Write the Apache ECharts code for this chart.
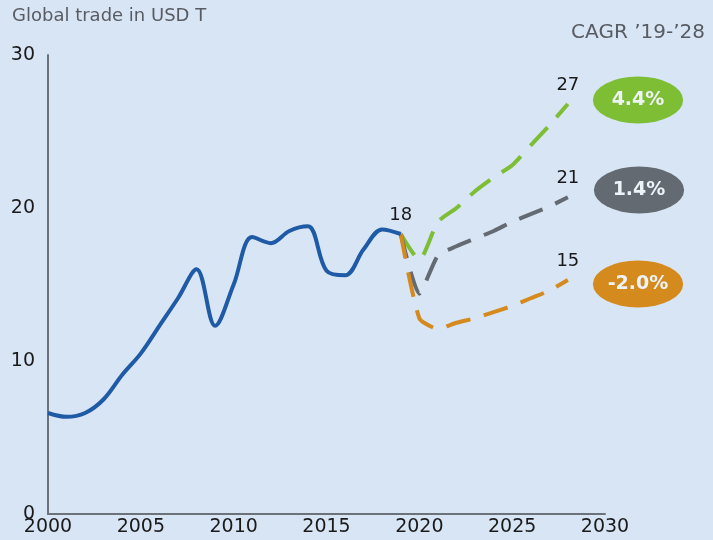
<!DOCTYPE html>
<html>
<head>
<meta charset="utf-8">
<script src="https://cdn.jsdelivr.net/npm/echarts@6/dist/echarts.min.js"></script>
<style>
  html, body { margin: 0; padding: 0; background: #d8e5f5; }
  #chart { width: 713px; height: 540px; }
</style>
</head>
<body>
<div id="chart"></div>
<script>
const FONT = 'DejaVu Sans';

// historical trade, USD T
const histYears = [2000, 2001, 2002, 2003, 2004, 2005, 2006, 2007, 2008, 2009,
  2010, 2011, 2012, 2013, 2014, 2015, 2016, 2017, 2018, 2019];
const histValues = [6.6, 6.35, 6.6, 7.5, 9.1, 10.5, 12.3, 14.1, 16.0, 12.3,
  15.0, 18.1, 17.7, 18.5, 18.8, 15.9, 15.6, 17.3, 18.6, 18.3];

// scenarios 2019-2028
const projYears = [2019, 2020, 2021, 2022, 2023, 2024, 2025, 2026, 2027, 2028];
const highValues = [18.3, 16.6, 19.1, 20.0, 21.1, 22.0, 22.8, 24.1, 25.4, 26.8];
const baseValues = [18.3, 14.4, 16.9, 17.5, 18.0, 18.5, 19.1, 19.6, 20.1, 20.7];
const lowValues = [18.3, 12.8, 12.1, 12.5, 12.8, 13.2, 13.6, 14.1, 14.6, 15.3];

const endLabels = ['27', '21', '15'];
const cagrLabels = ['4.4%', '1.4%', '-2.0%'];

const BLUE = '#1f5aa6';
const GREEN = '#7dbe34';
const GRAY = '#636a72';
const ORANGE = '#d48a1d';

const chart = echarts.init(document.getElementById('chart'));

const pairs = (xs, ys) => xs.map((x, i) => [x, ys[i]]);

// text sitting just above the last point
const endLabel = text => ({
  show: true,
  formatter: text,
  color: '#1a1a1a',
  fontSize: 18,
  fontFamily: FONT,
  align: 'center',
  verticalAlign: 'bottom',
  distance: 0,
  offset: [0, -10]
});

const dashed = (name, color, values, text) => ({
  name,
  type: 'line',
  data: pairs(projYears, values),
  showSymbol: false,
  smooth: 0.2,
  lineStyle: { color, width: 4, type: [25, 14], cap: 'butt' },
  endLabel: endLabel(text),
  z: 2
});

const ellipse = (cx, cy, color, text) => ({
  type: 'group',
  x: cx,
  y: cy,
  children: [
    {
      type: 'circle',
      shape: { cx: 0, cy: 0, r: 23.5 },
      scaleX: 1.92,
      style: { fill: color }
    },
    {
      type: 'text',
      x: 0,
      y: 0,
      style: {
        text,
        fill: '#eef3f8',
        font: '600 19px ' + FONT,
        textAlign: 'center',
        textVerticalAlign: 'middle'
      }
    }
  ]
});

const option = {
  backgroundColor: '#d8e5f5',
  animation: false,
  grid: { left: 48, right: 108, top: 55, bottom: 26 },
  xAxis: {
    type: 'value',
    min: 2000,
    max: 2030,
    interval: 5,
    axisLine: { show: true, lineStyle: { color: '#6c727a', width: 2 } },
    axisTick: { show: false },
    splitLine: { show: false },
    axisLabel: {
      color: '#1a1a1a',
      fontSize: 19,
      fontFamily: FONT,
      margin: 4,
      formatter: v => String(v)
    }
  },
  yAxis: {
    type: 'value',
    min: 0,
    max: 30,
    interval: 10,
    axisLine: { show: true, lineStyle: { color: '#6c727a', width: 2 } },
    axisTick: { show: false },
    splitLine: { show: false },
    axisLabel: {
      color: '#1a1a1a',
      fontSize: 19,
      fontFamily: FONT,
      margin: 13
    }
  },
  graphic: [
    {
      type: 'text',
      left: 12,
      top: 7,
      style: { text: 'Global trade in USD T', fill: '#585c62', font: '18px ' + FONT }
    },
    {
      type: 'text',
      right: 8,
      top: 23,
      style: { text: 'CAGR ’19-’28', fill: '#585c62', font: '20px ' + FONT }
    },
    ellipse(638, 100, GREEN, cagrLabels[0]),
    ellipse(639, 190, GRAY, cagrLabels[1]),
    ellipse(638, 284, ORANGE, cagrLabels[2])
  ],
  series: [
    dashed('High', GREEN, highValues, endLabels[0]),
    dashed('Base', GRAY, baseValues, endLabels[1]),
    dashed('Low', ORANGE, lowValues, endLabels[2]),
    {
      name: 'History',
      type: 'line',
      data: pairs(histYears, histValues),
      showSymbol: false,
      smooth: 0.35,
      lineStyle: { color: BLUE, width: 4 },
      endLabel: endLabel('18'),
      z: 3
    }
  ]
};

chart.setOption(option);
</script>
</body>
</html>
